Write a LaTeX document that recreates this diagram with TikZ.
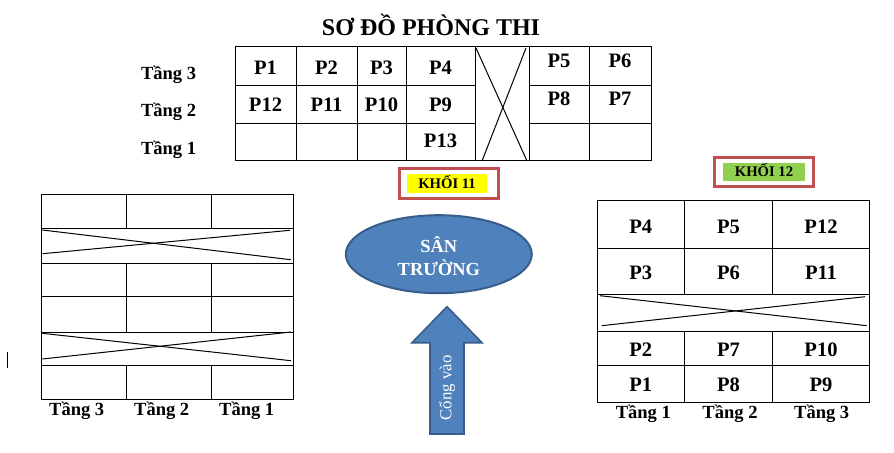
\documentclass[tikz,border=0pt]{standalone}
\usepackage{fontspec}
\setmainfont{Liberation Serif}
\usetikzlibrary{shapes.geometric}
\definecolor{boxred}{RGB}{192,80,77}
\definecolor{khyellow}{RGB}{255,255,0}
\definecolor{khgreen}{RGB}{146,208,80}
\definecolor{yardfill}{RGB}{79,129,189}
\definecolor{yardline}{RGB}{56,93,138}
\begin{document}
\begin{tikzpicture}[x=0.75pt,y=-0.75pt,line width=0.75pt,
  celltxt/.style={font=\fontsize{15.4}{18}\selectfont\bfseries,anchor=base,inner sep=0pt},
  floortxt/.style={font=\fontsize{13.9}{16}\selectfont\bfseries,anchor=base,inner sep=0pt},
  khoitxt/.style={font=\fontsize{11}{13}\selectfont\bfseries,anchor=base,inner sep=0pt},
  redframe/.style={draw=boxred,line width=2.25pt},
  yardtxt/.style={font=\fontsize{13.8}{16}\selectfont\bfseries,text=white,anchor=base,inner sep=0pt}]
\useasboundingbox (0,0) rectangle (894,453);
% title
\node[font=\fontsize{18}{21}\selectfont\bfseries,anchor=base,inner sep=0pt] (title) at (431,36) {SƠ ĐỒ PHÒNG THI};
% ---------- top grid (Khoi 11) ----------
\draw (235,47) rectangle (651,161);
\foreach \x in {296,357,406,475,529,589} \draw (\x,47) -- (\x,161);
\foreach \y in {85.5,123.3} {\draw (235,\y) -- (475,\y); \draw (529,\y) -- (651,\y);}
\draw (476,48) -- (527,161);
\draw (526,48) -- (482,161);
\node[floortxt] (t3) at (168.6,80) {Tầng 3};
\node[floortxt] (t2) at (168.6,117) {Tầng 2};
\node[floortxt] (t1) at (168.6,155) {Tầng 1};
\node[celltxt] (a1) at (265.5,75) {P1};
\node[celltxt] (a2) at (326.5,75) {P2};
\node[celltxt] (a3) at (381.5,75) {P3};
\node[celltxt] (a4) at (440.5,75) {P4};
\node[celltxt] (a12) at (265.5,111.5) {P12};
\node[celltxt] (a11) at (326.5,111.5) {P11};
\node[celltxt] (a10) at (381.5,111.5) {P10};
\node[celltxt] (a9) at (440.5,111.5) {P9};
\node[celltxt] (a13) at (440.5,147.5) {P13};
\node[celltxt] (a5) at (559,68) {P5};
\node[celltxt] (a6) at (620,68) {P6};
\node[celltxt] (a8) at (559,106) {P8};
\node[celltxt] (a7) at (620,106) {P7};
% KHOI 11 label
\draw[redframe] (399,169) rectangle (498.5,198.5);
\fill[khyellow] (406.7,174) rectangle (486.7,192.7);
\node[khoitxt] (k11) at (447,189) {KHỐI 11};
% KHOI 12 label
\draw[redframe] (714.8,157.5) rectangle (813.5,186.8);
\fill[khgreen] (723.3,162.7) rectangle (805,180.7);
\node[khoitxt] (k12) at (764,176) {KHỐI 12};
% ---------- left building ----------
\draw (41.3,194.3) rectangle (293.3,399.3);
\foreach \y in {228.3,263.3,296,332.3,365.3} \draw (41.3,\y) -- (293.3,\y);
\foreach \x in {126.7,211.7} {
  \draw (\x,194.3) -- (\x,228.3);
  \draw (\x,263.3) -- (\x,332.3);
  \draw (\x,365.3) -- (\x,399.3);}
\draw (42.3,230) -- (290.7,259.7);
\draw (290,230.3) -- (42.7,253.7);
\draw (42.3,333.3) -- (291,360.7);
\draw (291,332) -- (42.3,359);
\node[floortxt] (l3) at (76.7,415) {Tầng 3};
\node[floortxt] (l2) at (161.7,415) {Tầng 2};
\node[floortxt] (l1) at (246.7,415) {Tầng 1};
\draw (7.7,351.7) -- (7.7,367.7);
% ---------- right building (Khoi 12) ----------
\draw (597.3,200.7) rectangle (869.3,402.3);
\foreach \y in {248.3,294.3,331.7,365.7} \draw (597.3,\y) -- (869.3,\y);
\foreach \x in {684.3,772.7} {
  \draw (\x,200.7) -- (\x,294.3);
  \draw (\x,331.7) -- (\x,402.3);}
\draw (600,295.7) -- (866.7,325.7);
\draw (865,296.7) -- (601.7,325.7);
\node[celltxt] (b4) at (640.8,233.3) {P4};
\node[celltxt] (b5) at (728.5,233.3) {P5};
\node[celltxt] (b12) at (821,233.3) {P12};
\node[celltxt] (b3) at (640.8,280) {P3};
\node[celltxt] (b6) at (728.5,280) {P6};
\node[celltxt] (b11) at (821,280) {P11};
\node[celltxt] (b2) at (640.8,356) {P2};
\node[celltxt] (b7) at (728.5,356) {P7};
\node[celltxt] (b10) at (821,356) {P10};
\node[celltxt] (b1) at (640.8,391.7) {P1};
\node[celltxt] (b8) at (728.5,391.7) {P8};
\node[celltxt] (b9) at (821,391.7) {P9};
\node[floortxt] (r1) at (643.3,418) {Tầng 1};
\node[floortxt] (r2) at (730,418) {Tầng 2};
\node[floortxt] (r3) at (821.7,418) {Tầng 3};
% ---------- yard and gate ----------
\node[ellipse,draw=yardline,fill=yardfill,line width=1.5pt,minimum width=139.5pt,minimum height=58.5pt,inner sep=0pt] (yard) at (438.8,254.2) {};
\node[yardtxt] (yard1) at (438.8,252.7) {SÂN};
\node[yardtxt] (yard2) at (438.8,276) {TRƯỜNG};
\draw[draw=yardline,fill=yardfill,line width=1.2pt] (430,434) -- (430,342.7) -- (412,342.7) -- (447,306.7) -- (482,342.7) -- (464,342.7) -- (464,434) -- cycle;
\node[rotate=90,font=\fontsize{12.6}{15}\selectfont,text=white,inner sep=0pt] (gate) at (447,388) {Cổng vào};
\end{tikzpicture}
\end{document}
